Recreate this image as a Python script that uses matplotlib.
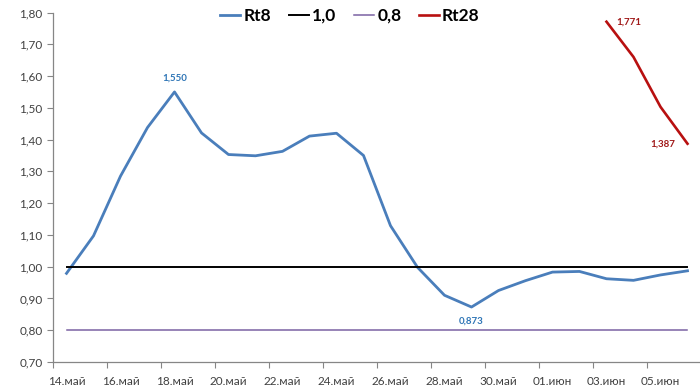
import matplotlib
matplotlib.use("Agg")
import matplotlib.pyplot as plt
import numpy as np

plt.rcParams['font.family'] = ['Lato', 'DejaVu Sans']

# daily dates, 14 May .. 06 June
tick_labels = ['14.май', '16.май', '18.май', '20.май', '22.май', '24.май',
               '26.май', '28.май', '30.май', '01.июн', '03.июн', '05.июн']
rt8 = [0.979, 1.097, 1.285, 1.438, 1.550, 1.421, 1.353, 1.349, 1.363, 1.411,
       1.420, 1.350, 1.129, 0.998, 0.910, 0.873, 0.925, 0.956, 0.983, 0.985,
       0.962, 0.957, 0.974, 0.987]
rt28 = [1.771, 1.660, 1.503, 1.387]  # 03.июн .. 06.июн
level_hi = 1.0
level_lo = 0.8

n = len(rt8)
x = np.arange(n) + 0.5
x28 = x[n - len(rt28):]

fig = plt.figure(figsize=(7, 3.88), dpi=100)
ax = fig.add_axes([53 / 700, 26 / 388, 648 / 700, 349.5 / 388])

ax.plot(x, rt8, color='#4A7EBB', lw=2.0, label='Rt8', solid_joinstyle='round')
ax.plot(x, [level_hi] * n, color='black', lw=1.4, label='1,0')
ax.plot(x, [level_lo] * n, color='#7B62A3', lw=1.1, label='0,8')
ax.plot(x28, rt28, color='#B81010', lw=1.9, label='Rt28')

# data labels
i_max = int(np.argmax(rt8))
i_min = int(np.argmin(rt8))
lbl_kw = dict(fontsize=7, fontweight='bold')
ax.annotate('1,550', (x[i_max], rt8[i_max]), xytext=(0, 7), textcoords='offset points',
            ha='center', va='bottom', color='#2E75B6', **lbl_kw)
ax.annotate('0,873', (x[i_min], rt8[i_min]), xytext=(0, -7), textcoords='offset points',
            ha='center', va='top', color='#2E75B6', **lbl_kw)
ax.annotate('1,771', (x28[0], rt28[0]), xytext=(7, 0), textcoords='offset points',
            ha='left', va='center', color='#A01818', **lbl_kw)
ax.annotate('1,387', (x28[-1], rt28[-1]), xytext=(-9, 0), textcoords='offset points',
            ha='right', va='center', color='#A01818', **lbl_kw)

ax.set_xlim(0, 24)
ax.set_ylim(0.70, 1.80)
# tick marks on day boundaries, labels centred on the day
ax.set_xticks(np.arange(0, 24, 2))
ax.set_xticklabels([])
ax.set_xticks(np.arange(0, 24, 2) + 0.5, minor=True)
ax.set_xticklabels(tick_labels, minor=True)
ax.tick_params(axis='x', which='minor', length=0, pad=10)
yt = np.arange(0.70, 1.801, 0.10)
ax.set_yticks(yt)
ax.set_yticklabels([f'{v:.2f}'.replace('.', ',') for v in yt])
ax.tick_params(which='both', labelsize=8.5, labelcolor='#404040', color='#868686')
ax.tick_params(which='major', length=4, width=0.8)

for side in ['top', 'right']:
    ax.spines[side].set_visible(False)
for side in ['left', 'bottom']:
    ax.spines[side].set_color('#868686')
    ax.spines[side].set_linewidth(0.9)

leg = fig.legend(loc='center', bbox_to_anchor=(0.5, 1 - 16 / 388), ncol=4, frameon=False,
                 prop={'size': 12.5, 'weight': 'bold'}, handlelength=1.15,
                 handletextpad=0.2, columnspacing=1.0)

fig.savefig('out.png', dpi=100)
